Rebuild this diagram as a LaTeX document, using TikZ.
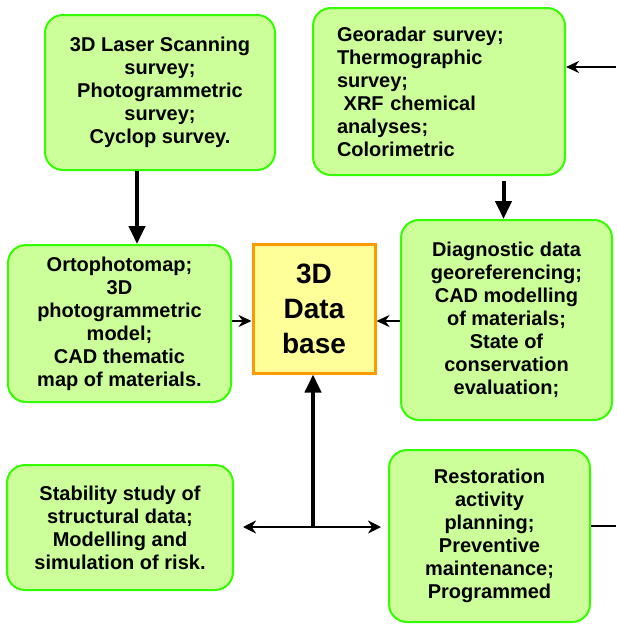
\documentclass[tikz,border=0pt]{standalone}
\usepackage{fontspec}
\setmainfont{Liberation Sans}
\usetikzlibrary{arrows.meta,calc}
\definecolor{boxfill}{RGB}{204,255,153}
\definecolor{boxline}{RGB}{51,255,0}
\definecolor{dbfill}{RGB}{255,255,153}
\definecolor{dbline}{RGB}{255,153,0}
\tikzset{
  survey/.style={draw=boxline, fill=boxfill, line width=2pt, rounded corners=18pt,
    inner sep=0pt, align=center, font=\bfseries\fontsize{20}{23}\selectfont},
  database/.style={draw=dbline, fill=dbfill, line width=3pt, inner sep=0pt,
    align=center, font=\bfseries\fontsize{28}{35}\selectfont},
  bigarrow/.style={line width=4pt, -{Triangle[length=18pt,width=16pt]}},
  smallarrow/.style={line width=2.5pt, -{Stealth[length=13pt,width=12pt]}},
}
\begin{document}
\begin{tikzpicture}[x=1pt, y=-1pt]
            \useasboundingbox (0,0) rectangle (616,624);

            % Draw the boxes
            \node[survey, minimum width=230pt, minimum height=155pt] (laser) at (160,92.5)
              {3D Laser Scanning\\survey;\\Photogrammetric\\survey;\\Cyclop survey.};
            \node[survey, minimum width=252pt, minimum height=167pt, text width=204pt, align=left] (georadar) at (439,91.5)
              {Georadar survey;\\Thermographic\\survey;\\\ XRF chemical\\analyses;\\Colorimetric};
            \node[survey, minimum width=223pt, minimum height=157pt] (ortho) at (119.5,323.5)
              {Ortophotomap;\\3D\\photogrammetric\\model;\\CAD thematic\\map of materials.};
            \node[database, minimum width=122pt, minimum height=129pt] (db) at (314,308.5)
              {3D\\Data\\base};
            \node[survey, minimum width=211pt, minimum height=200pt] (diag) at (506.5,320)
              {Diagnostic data\\georeferencing;\\CAD modelling\\of materials;\\State of\\conservation\\evaluation;};
            \node[survey, minimum width=226pt, minimum height=125pt] (stab) at (120,527.5)
              {Stability study of\\structural data;\\Modelling and\\simulation of risk.};
            \node[survey, minimum width=201pt, minimum height=172pt] (resto) at (489.5,536)
              {Restoration\\activity\\planning;\\Preventive\\maintenance;\\Programmed};

            % Draw the helper points
            \coordinate (laserx) at (137,0);
            \coordinate (rightin) at (616,67);
            \coordinate (dblevel) at (0,321);
            \coordinate (tee) at (313,527);
            \coordinate (rightout) at (616,526);

            % Draw the connectors
            \draw[bigarrow] (laserx |- laser.south) -- (laserx |- ortho.north);
            \draw[bigarrow] (diag.north |- georadar.south) ++(-3,5) -- ($(diag.north)+(-3,0)$);
            \draw[smallarrow] (rightin) -- (rightin -| georadar.east);
            \draw[smallarrow] (ortho.east |- dblevel) -- (db.west |- dblevel);
            \draw[smallarrow] (diag.west |- dblevel) -- (db.east |- dblevel);
            \draw[bigarrow] (tee) -- (tee |- db.south);
            \draw[line width=2.5pt, {Stealth[length=13pt,width=13pt]}-{Stealth[length=13pt,width=13pt]},
              shorten <=9pt, shorten >=7pt] (stab.east |- tee) -- (resto.west |- tee);
            \draw[line width=2.5pt] (resto.east |- rightout) -- (rightout);
        \end{tikzpicture}
\end{document}
